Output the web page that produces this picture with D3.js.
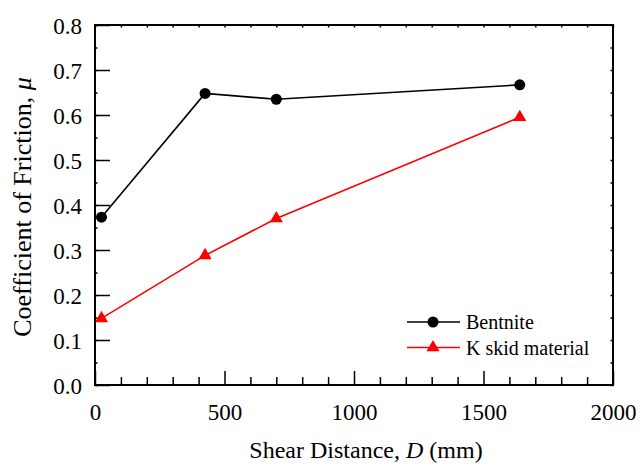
<!DOCTYPE html>
<html><head><meta charset="utf-8">
<script src="https://cdn.jsdelivr.net/npm/d3@7"></script>
<style>body{margin:0;background:#fff}</style>
</head><body>
<svg id="c" width="640" height="466"></svg>
<script>
const distances = [25, 425, 700, 1640];
const bentnite = [0.373, 0.648, 0.635, 0.667];
const kskid = [0.148, 0.288, 0.370, 0.595];
const seriesNames = ["Bentnite", "K skid material"];
const xTicks = [0, 500, 1000, 1500, 2000];
const yTicks = [0.0, 0.1, 0.2, 0.3, 0.4, 0.5, 0.6, 0.7, 0.8];

const FONT = "Liberation Serif";
const svg = d3.select("#c");
const L = 95, R = 613, T = 25, B = 385;
const x = d3.scaleLinear().domain([0, 2000]).range([L, R]);
const y = d3.scaleLinear().domain([0, 0.8]).range([B, T]);

function clean(g) {
  g.select(".domain").remove();
  g.attr("font-family", FONT);
  g.selectAll("line").attr("stroke", "#000").attr("stroke-width", 1.5);
}

const minorX = d3.range(0, 2001, 100);
svg.append("g").attr("transform", `translate(0,${B})`)
  .call(d3.axisBottom(x).tickValues(minorX.filter(v => v % 500)).tickSize(-8).tickFormat(""))
  .call(clean);
svg.append("g").attr("transform", `translate(0,${B})`)
  .call(d3.axisBottom(x).tickValues(xTicks).tickSize(-14).tickFormat(d3.format("d")))
  .call(clean)
  .call(g => g.selectAll("text").attr("font-size", 23).attr("dy", 0).attr("y", 35).attr("fill", "#000"));
svg.append("g").attr("transform", `translate(0,${T})`)
  .call(d3.axisTop(x).tickValues(minorX).tickSize(-2.5).tickFormat(""))
  .call(clean);
const minorY = d3.range(0, 17).map(i => i * 0.05);
svg.append("g").attr("transform", `translate(${L},0)`)
  .call(d3.axisLeft(y).tickValues(minorY).tickSize(-2.5).tickFormat(""))
  .call(clean);
svg.append("g").attr("transform", `translate(${L},0)`)
  .call(d3.axisLeft(y).tickValues(yTicks).tickSize(-15).tickFormat(d3.format(".1f")))
  .call(clean)
  .call(g => g.selectAll("text").attr("font-size", 23).attr("x", -13).attr("dy", "0.35em").attr("fill", "#000"));
svg.append("g").attr("transform", `translate(${R},0)`)
  .call(d3.axisRight(y).tickValues(minorY).tickSize(-2.5).tickFormat(""))
  .call(clean);

svg.append("rect").attr("x", L).attr("y", T).attr("width", R - L).attr("height", B - T)
  .attr("fill", "none").attr("stroke", "#000").attr("stroke-width", 2);

const line = d3.line().x(d => x(d[0])).y(d => y(d[1]));
const sets = [
  {vals: bentnite, color: "#000", sym: d3.symbolCircle, size: 95},
  {vals: kskid, color: "#ff0000", sym: d3.symbolTriangle, size: 75}
];
sets.forEach(s => {
  const pts = distances.map((d, i) => [d, s.vals[i]]);
  svg.append("path").attr("d", line(pts)).attr("fill", "none").attr("stroke", s.color).attr("stroke-width", 1.6);
  svg.selectAll(null).data(pts).enter().append("path")
    .attr("transform", d => `translate(${x(d[0])},${y(d[1])})`)
    .attr("d", d3.symbol().type(s.sym).size(s.size)).attr("fill", s.color);
});

const lg = svg.append("g").attr("font-family", FONT);
sets.forEach((s, i) => {
  const ly = 322 + i * 25.5;
  lg.append("line").attr("x1", 407).attr("x2", 460).attr("y1", ly).attr("y2", ly)
    .attr("stroke", s.color).attr("stroke-width", 1.6);
  lg.append("path").attr("transform", `translate(433,${ly})`)
    .attr("d", d3.symbol().type(s.sym).size(s.size)).attr("fill", s.color);
  lg.append("text").attr("x", 466).attr("y", ly + 7).attr("font-size", 20).text(seriesNames[i]);
});

const xt = svg.append("text").attr("x", 366).attr("y", 458).attr("text-anchor", "middle")
  .attr("font-size", 24).attr("font-family", FONT);
xt.append("tspan").text("Shear Distance,  ");
xt.append("tspan").attr("font-style", "italic").text("D");
xt.append("tspan").text(" (mm)");
const yt = svg.append("text").attr("transform", "translate(31,207) rotate(-90)")
  .attr("text-anchor", "middle").attr("font-size", 26).attr("font-family", FONT);
yt.append("tspan").text("Coefficient of Friction, ");
yt.append("tspan").attr("font-style", "italic").text("μ");
</script>
</body></html>
